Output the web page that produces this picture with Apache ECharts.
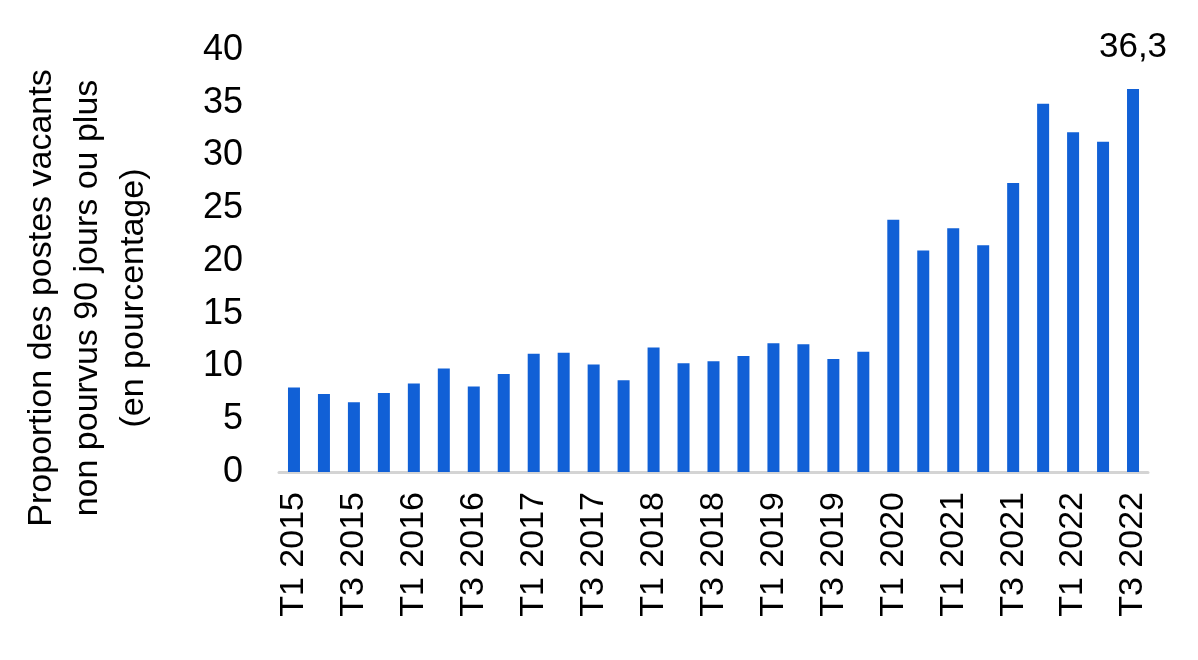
<!DOCTYPE html>
<html>
<head>
<meta charset="utf-8">
<script src="https://cdn.jsdelivr.net/npm/echarts@6/dist/echarts.min.js"></script>
<style>
html,body{margin:0;padding:0;background:#fff;}
#c{width:1198px;height:660px;}
</style>
</head>
<body>
<div id="c"></div>
<script>
const categories = [
  "T1 2015","T2 2015","T3 2015","T4 2015",
  "T1 2016","T2 2016","T3 2016","T4 2016",
  "T1 2017","T2 2017","T3 2017","T4 2017",
  "T1 2018","T2 2018","T3 2018","T4 2018",
  "T1 2019","T2 2019","T3 2019","T4 2019",
  "T1 2020","T4 2020",
  "T1 2021","T2 2021","T3 2021","T4 2021",
  "T1 2022","T2 2022","T3 2022"
];
const values = [
  8.0, 7.4, 6.6, 7.5,
  8.4, 9.8, 8.1, 9.3,
  11.2, 11.3, 10.2, 8.7,
  11.8, 10.3, 10.5, 11.0,
  12.2, 12.1, 10.7, 11.4,
  23.9, 21.0,
  23.1, 21.5, 27.4, 34.9,
  32.2, 31.3, 36.3
];
const yTicks = [0, 5, 10, 15, 20, 25, 30, 35, 40];
const yTitle = "Proportion des postes vacants\nnon pourvus 90 jours ou plus\n(en pourcentage)";

const FONT = "'Liberation Sans', Arial, sans-serif";
const chart = echarts.init(document.getElementById('c'), null, {renderer: 'canvas'});
const lastIdx = values.length - 1;
chart.setOption({
  animation: false,
  backgroundColor: '#ffffff',
  textStyle: {fontFamily: FONT},
  grid: {left: 279, right: 50, top: 50, bottom: 188, containLabel: false},
  xAxis: {
    type: 'category',
    data: categories,
    boundaryGap: true,
    axisLine: {show: true, lineStyle: {color: '#d4d4d4', width: 3}},
    axisTick: {show: false},
    axisLabel: {
      interval: 1,
      rotate: 90,
      margin: 20,
      fontSize: 34,
      color: '#000',
      fontFamily: FONT
    }
  },
  yAxis: {
    type: 'value',
    min: yTicks[0],
    max: yTicks[yTicks.length - 1],
    interval: 5,
    axisLine: {show: false},
    axisTick: {show: false},
    splitLine: {show: false},
    axisLabel: {
      fontSize: 36,
      color: '#000',
      margin: 36,
      fontFamily: FONT
    }
  },
  graphic: [{
    type: 'text',
    x: 88,
    y: 298,
    rotation: Math.PI / 2,
    style: {
      text: yTitle,
      fontSize: 34,
      lineHeight: 46,
      fill: '#000',
      fontFamily: FONT,
      align: 'center',
      verticalAlign: 'middle'
    }
  }],
  series: [{
    type: 'bar',
    data: values.map((v, i) => i === lastIdx ? {
      value: v,
      label: {
        show: true,
        position: 'top',
        distance: 24,
        fontSize: 35,
        color: '#000',
        fontFamily: FONT,
        formatter: p => String(p.value).replace('.', ',')
      }
    } : v),
    barWidth: 12,
    itemStyle: {color: '#1160d6'}
  }]
});
</script>
</body>
</html>
